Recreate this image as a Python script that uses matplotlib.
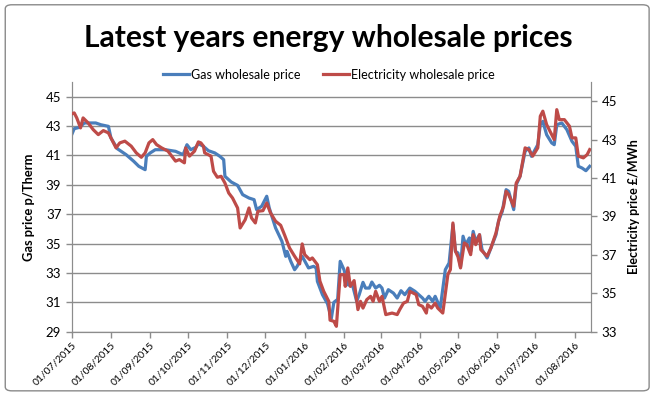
"""Latest years energy wholesale prices: gas (left axis) vs electricity (right axis)."""

import matplotlib

matplotlib.use("Agg")
import matplotlib.dates as mdates
import matplotlib.pyplot as plt
import pandas as pd
from matplotlib.patches import FancyBboxPatch

START = pd.Timestamp("2015-07-01")

# days since 1 Jul 2015, gas price p/therm
gas_day = [0, 2, 6, 10, 19, 23, 29, 31, 36, 43, 49, 53, 58, 59, 62, 66, 74, 82, 88, 91,
           94, 98, 100, 104, 108, 113, 117, 120, 121, 126, 131, 135, 140, 144, 146, 150,
           154, 156, 161, 166, 169, 170, 173, 176, 178, 182, 187, 191, 193, 194, 198, 202,
           205, 207, 210, 212, 215, 218, 222, 225, 227, 230, 232, 235, 237, 240, 243, 245,
           247, 250, 254, 257, 260, 263, 267, 271, 277, 279, 282, 285, 287, 291, 295, 298,
           301, 303, 305, 307, 309, 311, 314, 315, 317, 319, 322, 324, 328, 331, 335, 337,
           340, 343, 345, 349, 351, 354, 358, 361, 363, 368, 370, 372, 375, 379, 381, 383,
           387, 391, 395, 398, 400, 403, 406, 409]
gas_price = [42.41, 42.82, 42.91, 43.21, 43.21, 43.09, 42.98, 42.19, 41.46, 41.05, 40.60,
             40.26, 40.03, 40.94, 41.17, 41.39, 41.39, 41.28, 41.05, 41.73, 41.39, 41.55,
             41.80, 41.62, 41.32, 41.17, 40.94, 40.71, 39.58, 39.19, 38.96, 38.33, 38.10,
             37.99, 37.31, 37.54, 38.22, 37.42, 36.06, 35.15, 34.13, 34.47, 33.79, 33.22,
             33.45, 34.13, 33.34, 33.45, 33.34, 32.43, 31.52, 30.90, 29.90, 31.00, 31.20,
             33.79, 33.22, 32.20, 32.09, 31.07, 31.52, 32.36, 31.97, 31.97, 32.38, 31.97,
             32.16, 31.97, 31.29, 31.86, 31.63, 31.29, 31.79, 31.52, 31.97, 31.75, 31.29,
             31.07, 31.41, 31.07, 31.41, 30.61, 33.22, 33.68, 36.28, 34.47, 34.36, 33.40,
             35.50, 34.92, 35.38, 34.47, 35.83, 35.15, 35.60, 34.58, 34.02, 34.70, 35.60,
             36.52, 37.20, 38.67, 38.56, 37.31, 39.01, 39.58, 41.28, 41.51, 40.94, 41.73,
             43.09, 43.32, 42.41, 41.85, 41.73, 43.09, 43.21, 42.75, 41.96, 41.62, 40.26,
             40.14, 39.96, 40.26]

# days since 1 Jul 2015, electricity price GBP/MWh
elec_day = [0, 2, 4, 7, 9, 13, 17, 21, 25, 29, 31, 35, 38, 42, 47, 51, 55, 58, 61, 64, 67,
            71, 76, 82, 85, 89, 90, 93, 97, 100, 102, 104, 105, 110, 112, 115, 118, 121, 124,
            127, 131, 133, 137, 140, 142, 145, 147, 151, 154, 157, 161, 165, 168, 172, 176,
            180, 182, 184, 188, 190, 194, 196, 199, 203, 204, 207, 209, 212, 215, 216, 218,
            220, 223, 226, 228, 230, 233, 236, 238, 240, 243, 245, 248, 253, 257, 259, 262,
            265, 267, 272, 274, 277, 280, 281, 284, 287, 289, 293, 297, 299, 301, 303, 305,
            307, 310, 312, 315, 317, 319, 322, 323, 328, 331, 335, 338, 341, 343, 345, 349,
            351, 354, 357, 358, 361, 364, 368, 370, 372, 375, 381, 383, 385, 389, 393, 395,
            398, 400, 404, 407, 409]
elec_price = [44.34, 44.39, 44.13, 43.61, 44.13, 43.87, 43.52, 43.26, 43.47, 43.35, 43.09,
              42.57, 42.83, 42.92, 42.66, 42.31, 42.08, 42.31, 42.83, 43.00, 42.74, 42.57,
              42.40, 41.88, 41.96, 41.79, 42.57, 42.14, 42.40, 42.88, 42.83, 42.66, 42.31,
              42.14, 41.35, 41.04, 41.09, 40.74, 40.22, 39.96, 39.44, 38.40, 38.83, 39.44,
              38.92, 38.66, 39.27, 39.30, 39.70, 39.18, 38.75, 38.54, 38.05, 37.36, 36.93,
              36.53, 37.57, 37.01, 36.75, 36.84, 36.49, 35.63, 35.10, 34.58, 33.60, 33.54,
              33.28, 35.97, 35.97, 35.36, 36.32, 35.36, 35.66, 34.15, 34.58, 34.23, 34.67,
              34.84, 34.58, 35.10, 34.58, 34.84, 33.89, 33.97, 33.89, 34.15, 34.49, 34.58,
              35.10, 34.93, 34.41, 34.32, 33.97, 34.41, 34.23, 34.49, 34.23, 33.97, 35.97,
              36.23, 38.66, 37.19, 36.90, 36.32, 37.62, 37.53, 37.01, 38.05, 37.53, 38.05,
              37.27, 36.93, 37.36, 38.14, 39.01, 39.53, 40.31, 40.14, 39.53, 40.74, 41.09,
              42.22, 42.57, 42.48, 42.14, 42.57, 44.22, 44.48, 43.78, 43.00, 44.56, 44.04,
              44.04, 43.70, 43.09, 43.09, 42.14, 42.05, 42.22, 42.48]

left_ticks = [29, 31, 33, 35, 37, 39, 41, 43, 45]
right_ticks = [33, 35, 37, 39, 41, 43, 45]

BLUE = "#4A7EBB"
RED = "#BE4B48"
GRID = "#8C8C8C"

plt.rcParams["font.family"] = ["Lato", "DejaVu Sans"]

fig = plt.figure(figsize=(6.57, 3.98), dpi=100)
ax = fig.add_axes([0.1091, 0.1666, 0.7904, 0.6274])
ax2 = ax.twinx()

gas_dates = [START + pd.Timedelta(days=d) for d in gas_day]
elec_dates = [START + pd.Timedelta(days=d) for d in elec_day]

(gas_line,) = ax.plot(gas_dates, gas_price, color=BLUE, lw=2.3, solid_joinstyle="round",
                      label="Gas wholesale price", zorder=3)
(elec_line,) = ax2.plot(elec_dates, elec_price, color=RED, lw=2.3, solid_joinstyle="round",
                        label="Electricity wholesale price", zorder=3)

ax.set_ylim(29, 46)
ax2.set_ylim(33, 46)
ax.set_yticks(left_ticks)
ax2.set_yticks(right_ticks)
ax.set_xlim(START, pd.Timestamp("2016-08-14"))

ax.xaxis.set_major_locator(mdates.MonthLocator())
ax.xaxis.set_major_formatter(mdates.DateFormatter("%d/%m/%Y"))
for lab in ax.get_xticklabels():
    lab.set_rotation(45)
    lab.set_ha("right")
    lab.set_va("top")
    lab.set_rotation_mode("anchor")
    lab.set_fontsize(7.5)

ax.grid(axis="y", color=GRID, lw=1.0)
ax.set_axisbelow(True)
for a in (ax, ax2):
    a.spines["top"].set_visible(False)
    for side in ("left", "right", "bottom"):
        a.spines[side].set_color(GRID)
    a.tick_params(colors=GRID, length=4, width=1, labelcolor="black")
ax.tick_params(axis="y", labelsize=9.5)
ax2.tick_params(axis="y", labelsize=9.5)
ax.tick_params(axis="x", pad=2)

ax.set_ylabel("Gas price p/Therm", fontsize=9.3, fontweight="bold", labelpad=8)
ax2.set_ylabel("Electricity price £/MWh", fontsize=9, fontweight="bold", labelpad=8)

fig.text(0.5, 0.905, "Latest years energy wholesale prices", ha="center", va="center",
         fontsize=21.6, fontweight="bold")
fig.legend(handles=[gas_line, elec_line], loc="center", bbox_to_anchor=(0.5, 0.812), ncol=2,
           frameon=False, fontsize=9, handlelength=2.1, handletextpad=0.15, columnspacing=1.8)

border = FancyBboxPatch((0.008, 0.018), 0.98, 0.97, boxstyle="round,pad=0,rounding_size=0.01",
                        transform=fig.transFigure, fill=False, edgecolor="#8A8A8A", lw=1.0)
fig.patches.append(border)

fig.savefig("out.png", dpi=100)
